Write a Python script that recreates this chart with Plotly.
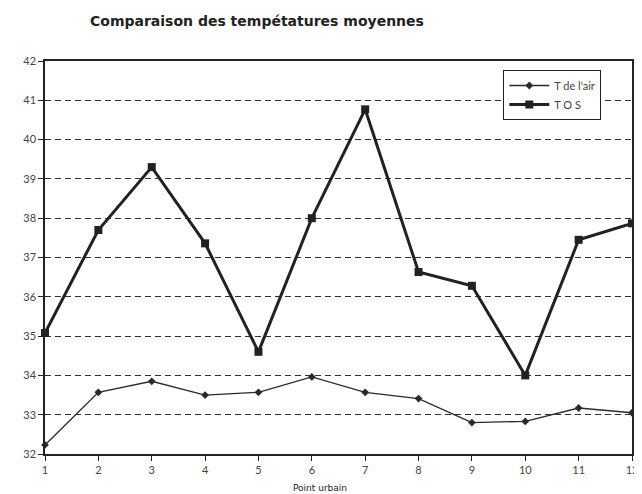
# Comparaison des températures moyennes : T de l'air vs T O S par point urbain

import plotly.graph_objects as go

points = [1, 2, 3, 4, 5, 6, 7, 8, 9, 10, 11, 12]
t_air = [32.23, 33.57, 33.85, 33.5, 33.57, 33.96, 33.57, 33.41, 32.8, 32.83, 33.17, 33.05]
t_os = [35.08, 37.7, 39.3, 37.36, 34.6, 38.0, 40.77, 36.63, 36.28, 34.0, 37.45, 37.87]

# la page html a une marge de 8px : on compense dans la taille de la figure
W, H = 634, 486

fig = go.Figure()

fig.add_trace(go.Scatter(
    x=points, y=t_air, name="T de l'air", mode="lines+markers",
    line=dict(color="#2a2a2a", width=1.3),
    marker=dict(symbol="diamond", size=6, color="#2a2a2a"),
    cliponaxis=False,
))
fig.add_trace(go.Scatter(
    x=points, y=t_os, name="T O S", mode="lines+markers",
    line=dict(color="#222222", width=3),
    marker=dict(symbol="square", size=8, color="#222222"),
    cliponaxis=False,
))

fig.update_layout(
    width=W, height=H,
    margin=dict(l=37, r=4, t=53, b=40),
    paper_bgcolor="white", plot_bgcolor="white",
    font=dict(family="Lato, DejaVu Sans, sans-serif", size=11, color="#444"),
    title=dict(
        text="Comparaison des tempétatures moyennes",
        font=dict(family="DejaVu Sans, sans-serif", size=14, color="#222", weight=600),
        x=82 / W, xanchor="left", xref="container",
        y=1 - 13 / H, yanchor="middle", yref="container",
    ),
    legend=dict(
        x=(508 - 45) / 593, y=(454 - 70) / 393, xanchor="left", yanchor="top",
        bgcolor="white", bordercolor="#222", borderwidth=1,
        font=dict(size=11, color="#444"),
        tracegroupgap=0, itemwidth=40,
    ),
    showlegend=True,
)

fig.update_xaxes(
    range=[1, 12], tickmode="linear", dtick=1,
    showgrid=False, zeroline=False,
    showline=True, linecolor="#222", linewidth=1.5, mirror=True,
    ticks="outside", ticklen=5, tickcolor="#222",
    ticklabeloverflow="allow",
)
fig.update_yaxes(
    range=[32, 42], tickmode="linear", dtick=1,
    showgrid=True, gridcolor="#333", gridwidth=1.3, griddash="6px,4px",
    zeroline=False,
    showline=True, linecolor="#222", linewidth=1.5, mirror=True,
    ticks="outside", ticklen=5, tickcolor="#222",
)

fig.add_annotation(
    text="Point urbain", xref="paper", yref="paper",
    x=0.469, y=-34 / 393, xanchor="center", yanchor="middle",
    showarrow=False, font=dict(family="DejaVu Sans, sans-serif", size=9, color="#222"),
)

fig.write_html("out.html")
